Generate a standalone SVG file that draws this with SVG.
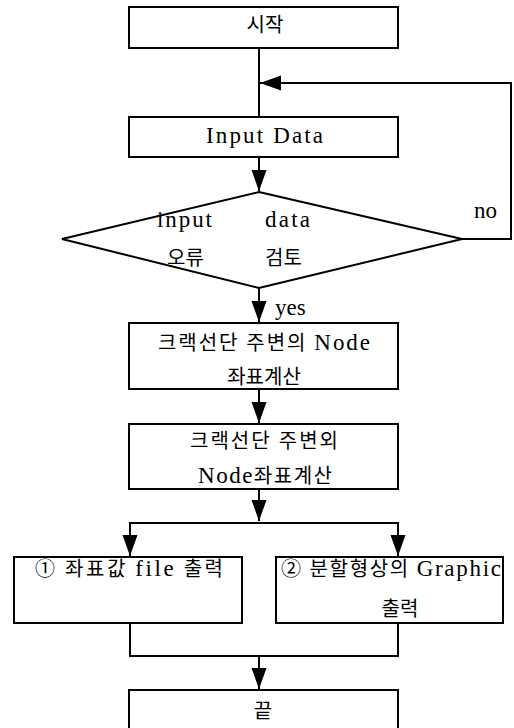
<svg xmlns="http://www.w3.org/2000/svg" width="514" height="728" viewBox="0 0 514 728">
<style>
.box{fill:#fff;stroke:#000;stroke-width:2}
.ln{fill:none;stroke:#000;stroke-width:2}
.t{font-family:"Liberation Serif","Noto Sans CJK KR",serif;font-size:20px;fill:#000}
.L{font-size:23px}
.c{text-anchor:middle}
</style>
<defs>
<marker id="ah" markerUnits="userSpaceOnUse" markerWidth="22" markerHeight="16" refX="21" refY="7.5" orient="auto">
<path d="M0,0 L21,7.5 L0,15 z" fill="#000"/>
</marker>
</defs>
<rect width="514" height="728" fill="#fff"/>
<g id="connectors">
<path class="ln" d="M259,48 V117"/>
<path class="ln" d="M462,239 H511 V83 H260" marker-end="url(#ah)"/>
<path class="ln" d="M259,157 V191" marker-end="url(#ah)"/>
<path class="ln" d="M259,288 V322" marker-end="url(#ah)"/>
<path class="ln" d="M259,389 V423" marker-end="url(#ah)"/>
<path class="ln" d="M259,489 V521" marker-end="url(#ah)"/>
<path class="ln" d="M130,556 V523 H398 V556"/>
<path class="ln" d="M130,523 V556" marker-end="url(#ah)"/>
<path class="ln" d="M398,523 V556" marker-end="url(#ah)"/>
<path class="ln" d="M130,623 V656 H398 V623"/>
<path class="ln" d="M259,656 V689" marker-end="url(#ah)"/>
<text class="t L" x="474" y="218">no</text>
<text class="t L" x="275" y="315">yes</text>
</g>
<g id="start">
<rect class="box" x="129" y="7" width="269" height="41"/>
<text class="t c" x="265" y="32">시작</text>
</g>
<g id="input">
<rect class="box" x="129" y="117" width="269" height="40"/>
<text class="t L c" x="264.5" y="143" textLength="117" lengthAdjust="spacing">Input Data</text>
</g>
<g id="check">
<polygon class="box" points="259,192 462,239 259,288 62,239"/>
<text class="t L" x="157" y="227" textLength="55" lengthAdjust="spacing">input</text>
<text class="t L" x="265" y="227" textLength="45" lengthAdjust="spacing">data</text>
<text class="t" x="167" y="265">오류</text>
<text class="t" x="265" y="265">검토</text>
</g>
<g id="calc1">
<rect class="box" x="129" y="323" width="269" height="66"/>
<text class="t c" x="264" y="350" textLength="212" lengthAdjust="spacing">크랙선단 주변의 <tspan class="L">Node</tspan></text>
<text class="t c" x="264" y="384">좌표계산</text>
</g>
<g id="calc2">
<rect class="box" x="129" y="424" width="269" height="65"/>
<text class="t c" x="264" y="448" textLength="148" lengthAdjust="spacing">크랙선단 주변외</text>
<text class="t c" x="265" y="483" textLength="134" lengthAdjust="spacing"><tspan class="L">Node</tspan>좌표계산</text>
</g>
<g id="out1">
<rect class="box" x="14" y="557" width="228" height="66"/>
<text class="t c" x="129" y="576" textLength="188" lengthAdjust="spacing">① 좌표값 <tspan class="L">file</tspan> 출력</text>
</g>
<g id="out2">
<rect class="box" x="276" y="557" width="227" height="66"/>
<text class="t c" x="391" y="576" textLength="220" lengthAdjust="spacing">② 분할형상의 <tspan class="L">Graphic</tspan></text>
<text class="t c" x="400" y="616">출력</text>
</g>
<g id="end">
<rect class="box" x="129" y="690" width="269" height="42"/>
<text class="t c" x="263" y="718">끝</text>
</g>
</svg>
